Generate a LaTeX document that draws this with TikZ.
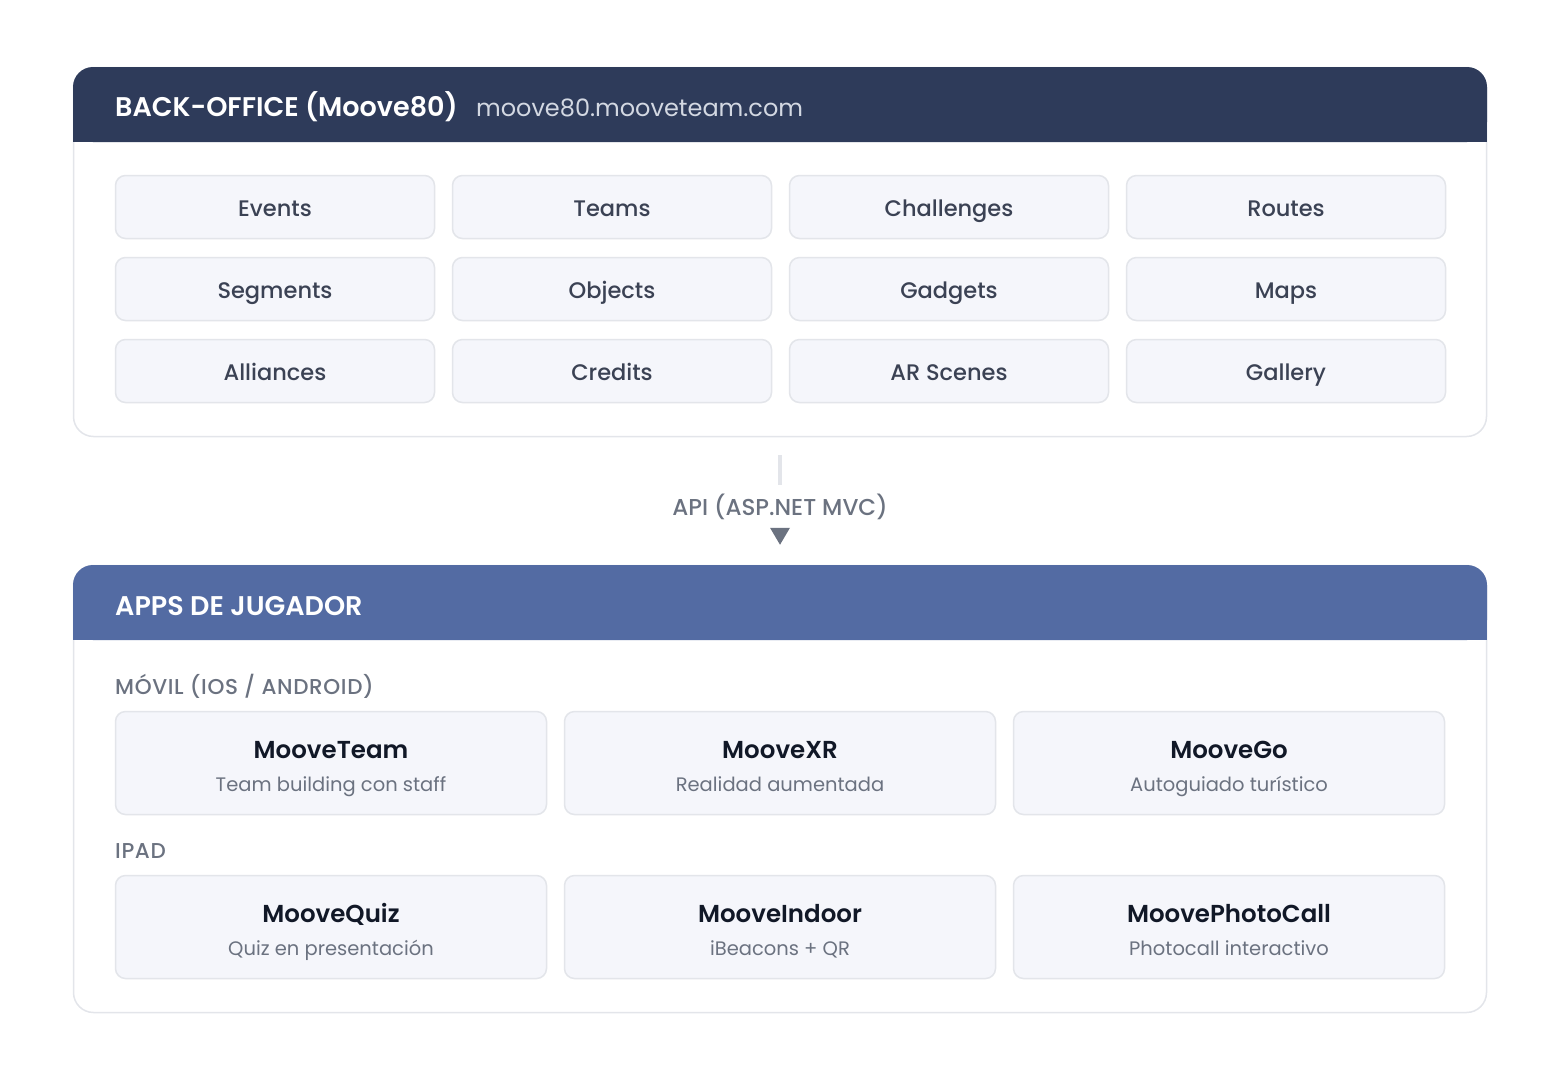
\documentclass[tikz,border=0pt]{standalone}
\usepackage{fontspec}
\setmainfont{Poppins}
\newfontfamily\medfont{Poppins Medium}
\newfontfamily\spacedfont{Poppins Medium}[LetterSpace=3]
\newfontfamily\semifont{Poppins SemiBold}
\usetikzlibrary{positioning}
\definecolor{navy}{HTML}{2E3B5A}
\definecolor{slate}{HTML}{536BA3}
\definecolor{edge}{HTML}{E3E5EA}
\definecolor{cellfill}{HTML}{F5F6FB}
\definecolor{celltext}{HTML}{3B4254}
\definecolor{ink}{HTML}{111827}
\definecolor{muted}{HTML}{6B7280}
\definecolor{urltext}{HTML}{D3D8E2}
\tikzstyle{panel} = [draw=edge, line width=1.5pt, fill=white, rounded corners=20pt, inner sep=0pt, minimum width=1413pt]
\tikzstyle{cell} = [draw=edge, line width=1.5pt, fill=cellfill, rounded corners=10pt, minimum width=319pt, minimum height=63pt, text height=18pt, text depth=0pt, text=celltext, font=\fontsize{22.5}{28}\selectfont\medfont]
\tikzstyle{app} = [draw=edge, line width=1.5pt, fill=cellfill, rounded corners=10pt, minimum width=431pt, minimum height=103pt, align=center, text height=56pt, text depth=0pt, text=muted, font=\fontsize{19.5}{33}\selectfont]
\tikzstyle{heading} = [anchor=base west, inner sep=0pt, text=white, font=\fontsize{27}{30}\selectfont\semifont]
\tikzstyle{section} = [anchor=base west, inner sep=0pt, text=muted, font=\fontsize{21.5}{24}\selectfont\spacedfont]

\newcommand{\apptitle}[1]{{\fontsize{24.5}{33}\selectfont\semifont\color{ink}#1}}

\begin{document}
\begin{tikzpicture}[x=1pt, y=-1pt]
\useasboundingbox (0,0) rectangle (1560,1080);

% back-office panel
\node[panel, minimum height=369pt] (backoffice) at (780,252) {};
\fill[navy, rounded corners=20pt] (73,67) rectangle (1487,142);
\fill[navy] (73,110) rectangle (1487,142);
\node[heading] (boTitle) at (115,116) {BACK-OFFICE (Moove80)};
\node[inner sep=0pt, text=urltext, font=\fontsize{24}{30}\selectfont, right=18pt of boTitle.base east, anchor=base west] (boUrl) {moove80.mooveteam.com};

\foreach \name/\col/\row in {Events/0/0, Teams/1/0, Challenges/2/0, Routes/3/0,
 Segments/0/1, Objects/1/1, Gadgets/2/1, Maps/3/1,
 Alliances/0/2, Credits/1/2, AR Scenes/2/2, Gallery/3/2}
{
\node[cell] (mod-\col-\row) at (275+337*\col, 207+82*\row) {\name};
}

% api link
\coordinate (lnTop) at ([yshift=-18pt]backoffice.south);
\coordinate (lnEnd) at (780,485);
\draw[edge, line width=3.5pt] (lnTop) -- (lnEnd);
\node[anchor=base, inner sep=0pt, text=muted, font=\fontsize{23}{24}\selectfont\medfont] (api) at (780,515) {API (ASP.NET MVC)};

% player apps panel
\node[panel, minimum height=447pt] (apps) at (780,789) {};
\fill[muted] ([yshift=20pt]apps.north) -- ++(-10pt,17pt) -- ++(20pt,0pt) -- cycle;
\fill[slate, rounded corners=20pt] (73,565) rectangle (1487,640);
\fill[slate] (73,600) rectangle (1487,640);
\node[heading] (appsTitle) at (115,615) {APPS DE JUGADOR};

\node[section] (movil) at (115,694) {MÓVIL (IOS / ANDROID)};
\node[section] (ipad) at (115,858) {IPAD};

\node[app] (moveteam) at (331,763) {\apptitle{MooveTeam}\\Team building con staff};
\node[app] (movexr) at (780,763) {\apptitle{MooveXR}\\Realidad aumentada};
\node[app] (movego) at (1229,763) {\apptitle{MooveGo}\\Autoguiado turístico};
\node[app] (movequiz) at (331,927) {\apptitle{MooveQuiz}\\Quiz en presentación};
\node[app] (moveindoor) at (780,927) {\apptitle{MooveIndoor}\\iBeacons + QR};
\node[app] (movephoto) at (1229,927) {\apptitle{MoovePhotoCall}\\Photocall interactivo};

\end{tikzpicture}
\end{document}
